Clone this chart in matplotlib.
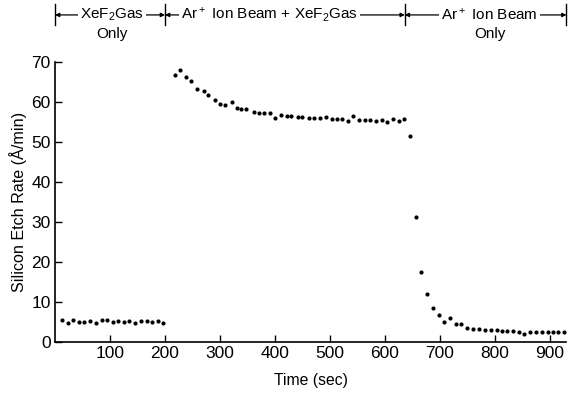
import matplotlib.pyplot as plt

plt.rcParams["font.family"] = ["Liberation Sans", "DejaVu Sans"]
plt.rcParams["mathtext.default"] = "regular"

# XeF2 gas only
t_gas = [12, 23, 33, 44, 53, 64, 74, 85, 95, 106, 115, 125, 135, 145, 156, 167, 177, 188, 196]
rate_gas = [5.5, 4.8, 5.5, 5.0, 5.0, 5.3, 4.6, 5.4, 5.5, 5.0, 5.2, 5.0, 5.1, 4.8, 5.3, 5.3, 5.0, 5.1, 4.8]

# Ar+ ion beam + XeF2 gas
t_both = [218, 227, 238, 248, 259, 270, 279, 290, 300, 309, 321, 330, 339, 348, 361, 370, 380, 391, 400, 411,
          421, 430, 441, 450, 461, 471, 482, 493, 503, 512, 522, 532, 542, 553, 564, 573, 584, 594, 604, 615,
          626, 635]
rate_both = [66.8, 67.9, 66.2, 65.2, 63.3, 62.8, 61.7, 60.4, 59.4, 59.3, 60.0, 58.5, 58.2, 58.3, 57.5, 57.1,
             57.3, 57.1, 55.9, 56.7, 56.5, 56.4, 56.1, 56.1, 55.9, 55.9, 55.9, 56.3, 55.8, 55.8, 55.8, 55.3,
             56.5, 55.4, 55.4, 55.4, 55.3, 55.4, 55.0, 55.7, 55.2, 55.8]

# Ar+ ion beam only
t_ion = [645, 656, 665, 677, 688, 698, 708, 718, 730, 739, 750, 760, 771, 782, 792, 803, 812, 822, 833, 844,
         853, 864, 874, 885, 896, 905, 915, 926]
rate_ion = [51.5, 31.3, 17.5, 11.9, 8.5, 6.7, 5.0, 5.9, 4.4, 4.4, 3.5, 3.3, 3.1, 3.0, 2.9, 2.85, 2.8, 2.75,
            2.7, 2.35, 1.9, 2.5, 2.4, 2.4, 2.35, 2.35, 2.35, 2.35]

# phase boundaries (sec) and header labels
bounds = [0, 200, 636, 930]
phase_labels = ["XeF$_2$Gas", "Ar$^+$ Ion Beam + XeF$_2$Gas", "Ar$^+$ Ion Beam"]
label_x = [104, 390, 790]

fig = plt.figure(figsize=(5.81, 3.93), dpi=100)
ax = fig.add_axes([0.0947, 0.1305, 0.8803, 0.7125])

for t, r in [(t_gas, rate_gas), (t_both, rate_both), (t_ion, rate_ion)]:
    ax.plot(t, r, "o", color="black", markersize=3.0, markeredgewidth=0)

ax.set_xlim(0, 930)
ax.set_ylim(0, 70)
ax.set_xticks(range(100, 1000, 100))
ax.set_yticks(range(0, 80, 10))
ax.tick_params(direction="in", length=5, width=1, labelsize=12.5, pad=3)
for s in ["top", "right"]:
    ax.spines[s].set_visible(False)
for s in ["left", "bottom"]:
    ax.spines[s].set_linewidth(1.2)
ax.set_xlabel("Time (sec)", fontsize=11.3, labelpad=9)
ax.set_ylabel("Silicon Etch Rate (\u00c5/min)", fontsize=11.6, labelpad=3)

# header: |<- label ->| for each phase
tr = ax.get_xaxis_transform()
y_head = 1.167
for b in bounds:
    ax.plot([b, b], [1.13, 1.205], color="black", lw=1, transform=tr, clip_on=False)
for i in range(3):
    ax.annotate("", xy=(bounds[i], y_head), xytext=(bounds[i + 1], y_head),
                xycoords=tr, textcoords=tr,
                arrowprops=dict(arrowstyle="<|-|>", color="black", lw=0.9,
                                mutation_scale=6, shrinkA=0, shrinkB=0))
    ax.text(label_x[i], y_head, phase_labels[i], transform=tr, ha="center", va="center",
            fontsize=11, bbox=dict(facecolor="white", edgecolor="none", pad=1.5))
ax.text(label_x[0], 1.10, "Only", transform=tr, ha="center", va="center", fontsize=11)
ax.text(label_x[2], 1.10, "Only", transform=tr, ha="center", va="center", fontsize=11)

fig.savefig("out.png", dpi=100)
